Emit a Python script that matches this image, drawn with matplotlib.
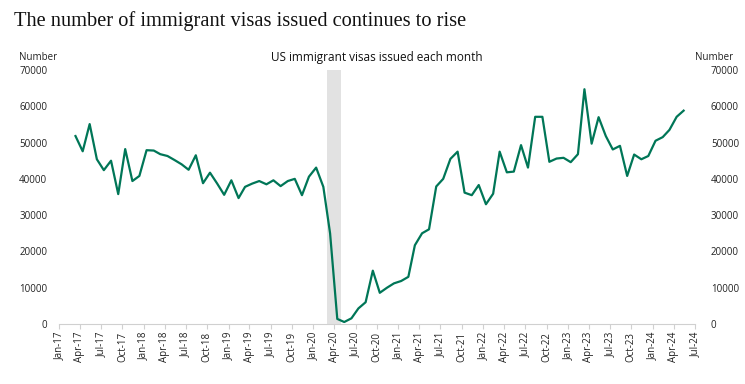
import pandas as pd
import matplotlib
matplotlib.use('Agg')
import matplotlib.pyplot as plt
import matplotlib.dates as mdates

plt.rcParams['font.family'] = ['Open Sans', 'DejaVu Sans']

# monthly US immigrant visas issued, Mar 2017 - May 2024
months = pd.date_range('2017-03-01', '2024-05-01', freq='MS') + pd.Timedelta(days=12)
visas = [51800, 47600, 55100, 45400, 42400, 45000, 35800, 48200, 39400, 40800,
         47900, 47800, 46800, 46300, 45200, 44000, 42500, 46500, 38800, 41700,
         38700, 35600, 39600, 34700, 37800, 38700, 39400, 38500, 39600, 38000,
         39400, 40000, 35500, 40600, 43100, 37800, 25000, 1400, 550, 1570,
         4300, 6000, 14700, 8600, 10000, 11200, 11850, 13000, 21700, 25000,
         26100, 37900, 40000, 45500, 47500, 36200, 35500, 38300, 33000, 35900,
         47500, 41800, 42000, 49300, 43100, 57100, 57100, 44700, 45600, 45800,
         44600, 46800, 64700, 49700, 57000, 51800, 48100, 49100, 40800, 46700,
         45400, 46300, 50500, 51500, 53500, 57100, 58800]
shade_start, shade_end = pd.Timestamp('2020-03-01'), pd.Timestamp('2020-05-01')

W, H = 745, 384
fig = plt.figure(figsize=(W / 100, H / 100), dpi=100)
ax = fig.add_axes([59 / W, 60 / H, (695 - 59) / W, 254 / H])

ax.axvspan(shade_start, shade_end, color='#e2e2e2', lw=0, zorder=0)
ax.plot(months, visas, color='#007657', lw=1.6, zorder=3)

ax.set_xlim(pd.Timestamp('2017-01-01'), pd.Timestamp('2024-07-01'))
ax.set_ylim(0, 70000)
ax.xaxis.set_major_locator(mdates.MonthLocator(bymonth=(1, 4, 7, 10)))
ax.xaxis.set_major_formatter(mdates.DateFormatter('%b-%y'))
ax.tick_params(axis='x', rotation=90, labelsize=7, length=3.5, color='#d0d0d0',
               pad=2, labelcolor='#222222')
ax.tick_params(axis='y', length=0, labelsize=7, pad=8.5, labelcolor='#222222')
ax.set_yticks(range(0, 70001, 10000))
for s in ['top', 'left', 'right']:
    ax.spines[s].set_visible(False)
ax.spines['bottom'].set_color('#d0d0d0')
ax.spines['bottom'].set_linewidth(0.8)

ax2 = ax.twinx()
ax2.set_ylim(0, 70000)
ax2.set_yticks(range(0, 70001, 10000))
ax2.tick_params(axis='y', length=0, labelsize=7, pad=11.5, labelcolor='#222222')
for lab in ax2.get_yticklabels():
    lab.set_horizontalalignment('left')
for s in ax2.spines.values():
    s.set_visible(False)

fig.text(14 / W, 1 - 21 / H, 'The number of immigrant visas issued continues to rise',
         family='Liberation Serif', fontsize=14.7, va='center', ha='left', color='#111111')
fig.text(377 / W, 1 - 58 / H, 'US immigrant visas issued each month',
         fontsize=8.5, ha='center', va='center', color='#111111')
fig.text(19 / W, 1 - 58 / H, 'Number', fontsize=7, ha='left', va='center', color='#222222')
fig.text(733 / W, 1 - 58 / H, 'Number', fontsize=7, ha='right', va='center', color='#222222')

fig.savefig('out.png', dpi=100)
